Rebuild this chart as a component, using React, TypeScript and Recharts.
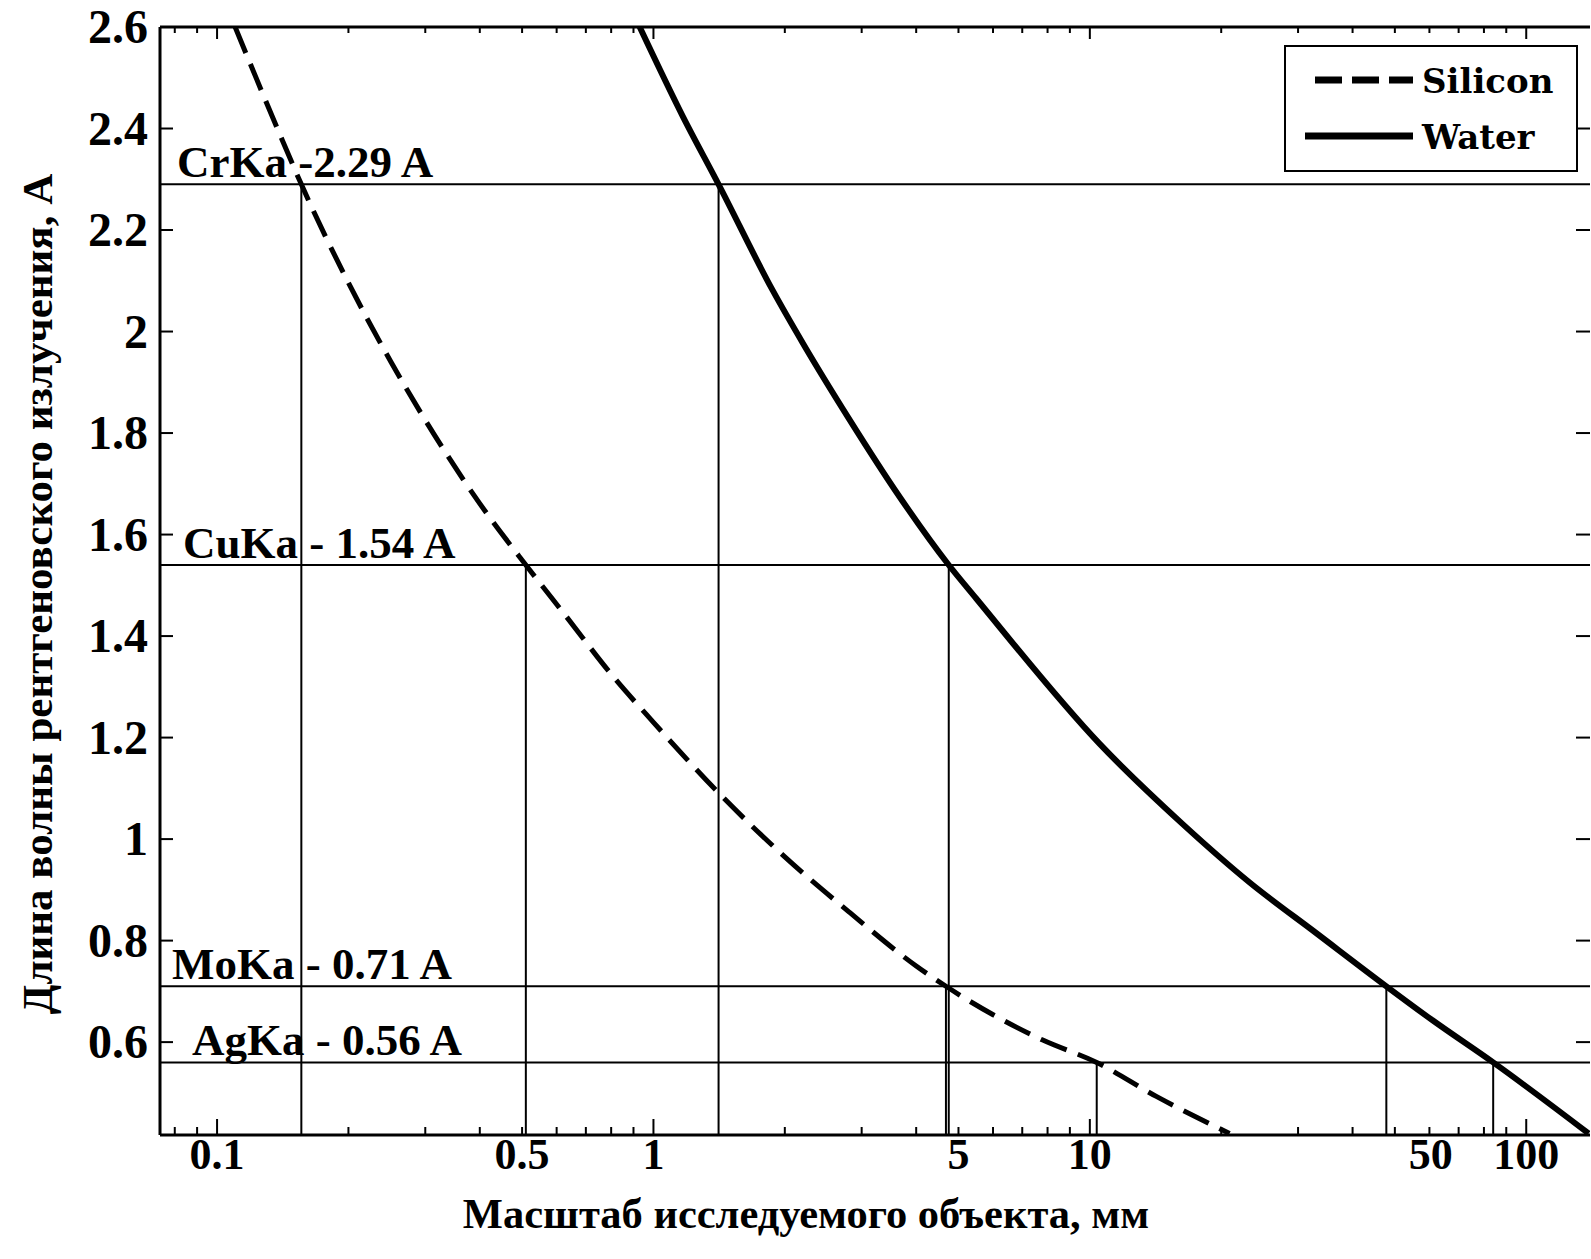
import React from 'react';
import { LineChart, Line, XAxis, YAxis, ReferenceLine, Legend } from 'recharts';

// Silicon (dashed) curve: object size, mm vs wavelength, A
const siliconSize = [0.110, 0.139, 0.156, 0.2, 0.25, 0.315, 0.4, 0.51, 0.632, 0.8, 1.0, 1.414, 2.0, 2.82, 4.0, 4.68, 7.8, 10.37, 14.2, 20.9];
const siliconWavelength = [2.60, 2.39, 2.29, 2.096, 1.941, 1.796, 1.661, 1.54, 1.438, 1.325, 1.23, 1.09, 0.965, 0.855, 0.75, 0.71, 0.604, 0.56, 0.493, 0.42];

// Water (solid) curve
const waterSize = [0.93, 1.169, 1.41, 1.879, 2.2, 2.816, 3.66, 4.75, 5.49, 10.52, 16.3, 23.2, 33.0, 47.8, 61.0, 84, 139];
const waterWavelength = [2.60, 2.423, 2.29, 2.08, 1.977, 1.826, 1.675, 1.54, 1.474, 1.188, 1.03, 0.915, 0.815, 0.71, 0.643, 0.56, 0.42];

// characteristic lines
const lineNames = ['CrKa -2.29 A', 'CuKa - 1.54 A', 'MoKa - 0.71 A', 'AgKa - 0.56 A'];
const lineWavelengths = [2.29, 1.54, 0.71, 0.56];
const siliconCrossing = [0.156, 0.51, 4.68, 10.37];
const waterCrossing = [1.41, 4.75, 47.8, 84];

// axes
const xDomain = [0.074, 140];
const yDomain = [0.417, 2.6];
const xTicks = [0.08, 0.09, 0.1, 0.2, 0.3, 0.4, 0.5, 0.6, 0.7, 0.8, 0.9, 1, 2, 3, 4, 5, 6, 7, 8, 9, 10, 20, 30, 40, 50, 60, 70, 80, 90, 100];
const xMajorTicks = [0.1, 1, 10, 100];
const xLabelValues = [0.1, 0.5, 1, 5, 10, 50, 100];
const xLabelTexts = ['0.1', '0.5', '1', '5', '10', '50', '100'];
const yTicks = [0.6, 0.8, 1, 1.2, 1.4, 1.6, 1.8, 2, 2.2, 2.4, 2.6];
const yTickTexts = ['0.6', '0.8', '1', '1.2', '1.4', '1.6', '1.8', '2', '2.2', '2.4', '2.6'];

const xTitle = 'Масштаб исследуемого объекта, мм';
const yTitle = 'Длина волны рентгеновского излучения, А';

// ---- presentation ----
const FONT = "'Liberation Serif', 'Times New Roman', serif";
const labelDx = [17, 23, 12, 32];
const xLabelShift: Record<string, number> = { '50': 36 };
const seriesStyle: Record<string, { width: number; dash?: string }> = {
  Silicon: { width: 5, dash: '28 12' },
  Water: { width: 6 },
};

const siliconData = siliconSize.map((s, i) => ({ size: s, wavelength: siliconWavelength[i] }));
const waterData = waterSize.map((s, i) => ({ size: s, wavelength: waterWavelength[i] }));

function BottomTick(props: any) {
  const { x, y, payload } = props;
  const v = payload.value;
  const major = xMajorTicks.includes(v);
  const idx = xLabelValues.indexOf(v);
  const txt = idx >= 0 ? xLabelTexts[idx] : null;
  return (
    <g>
      <line x1={x} x2={x} y1={y} y2={y - (major ? 16 : 8)} stroke="#000" strokeWidth={2} />
      {txt && (
        <text x={x + (xLabelShift[txt] || 0)} y={y + 34} textAnchor="middle" fontFamily={FONT} fontWeight="bold" fontSize={44} fill="#000">
          {txt}
        </text>
      )}
    </g>
  );
}

function TopTick(props: any) {
  const { x, y, payload } = props;
  const major = xMajorTicks.includes(payload.value);
  return <line x1={x} x2={x} y1={y} y2={y + (major ? 12 : 6)} stroke="#000" strokeWidth={2} />;
}

function LeftTick(props: any) {
  const { x, y, payload } = props;
  const idx = yTicks.indexOf(payload.value);
  return (
    <g>
      <line x1={x} x2={x + 13} y1={y} y2={y} stroke="#000" strokeWidth={2} />
      <text x={x - 12} y={y + 16} textAnchor="end" fontFamily={FONT} fontWeight="bold" fontSize={48} fill="#000">
        {idx >= 0 ? yTickTexts[idx] : ''}
      </text>
    </g>
  );
}

function RightTick(props: any) {
  const { x, y } = props;
  return <line x1={x} x2={x - 14} y1={y} y2={y} stroke="#000" strokeWidth={2} />;
}

function LineTag(props: any) {
  const { viewBox, text, dx } = props;
  return (
    <text x={viewBox.x + dx} y={viewBox.y - 7} fontFamily={FONT} fontWeight="bold" fontSize={45} fill="#000">
      {text}
    </text>
  );
}

function XTitle() {
  return (
    <text x={806} y={1228} textAnchor="middle" fontFamily={FONT} fontWeight="bold" fontSize={42.5} fill="#000">
      {xTitle}
    </text>
  );
}

function YTitle() {
  return (
    <text transform="translate(52,594) rotate(-90)" textAnchor="middle" fontFamily={FONT} fontWeight="bold" fontSize={43} fill="#000">
      {yTitle}
    </text>
  );
}

function LegendBox(props: any) {
  const items = props.payload || [];
  return (
    <svg width={294} height={127} style={{ display: 'block' }}>
      <rect x={1} y={1} width={292} height={125} fill="#fff" stroke="#000" strokeWidth={2} />
      {items.map((e: any, i: number) => {
        const st = seriesStyle[e.value] || { width: 6 };
        const cy = i === 0 ? 35 : 91;
        return (
          <g key={i}>
            <line x1={st.dash ? 31 : 21} x2={129} y1={cy} y2={cy} stroke="#000" strokeWidth={7} strokeDasharray={st.dash ? '27 10' : undefined} />
            <text x={138} y={cy + 13} fontFamily="'DejaVu Serif', serif" fontWeight="bold" fontSize={34} fill="#000">
              {e.value}
            </text>
          </g>
        );
      })}
    </svg>
  );
}

export default function App() {
  const ymin = yDomain[0];
  return (
    <div style={{ position: 'absolute', left: 0, top: 0, background: '#fff' }}>
      <LineChart width={1591} height={1259} margin={{ top: 0, right: 0, bottom: 0, left: 0 }}>
        <XAxis
          dataKey="size"
          type="number"
          scale="log"
          domain={xDomain}
          allowDataOverflow
          ticks={xTicks}
          interval={0}
          height={124}
          tickSize={0}
          tickMargin={0}
          tick={<BottomTick />}
          axisLine={{ stroke: '#000', strokeWidth: 3 }}
          tickLine={false}
          label={<XTitle />}
        />
        <XAxis
          xAxisId="top"
          orientation="top"
          dataKey="size"
          type="number"
          scale="log"
          domain={xDomain}
          allowDataOverflow
          ticks={xTicks}
          interval={0}
          height={27}
          tickSize={0}
          tickMargin={0}
          tick={<TopTick />}
          axisLine={{ stroke: '#000', strokeWidth: 3 }}
          tickLine={false}
        />
        <YAxis
          type="number"
          domain={yDomain}
          allowDataOverflow
          ticks={yTicks}
          interval={0}
          width={160}
          tickSize={0}
          tickMargin={0}
          tick={<LeftTick />}
          axisLine={{ stroke: '#000', strokeWidth: 3 }}
          tickLine={false}
          label={<YTitle />}
        />
        <YAxis
          yAxisId="right"
          orientation="right"
          type="number"
          domain={yDomain}
          allowDataOverflow
          ticks={yTicks}
          interval={0}
          width={1}
          tickSize={0}
          tickMargin={0}
          tick={<RightTick />}
          axisLine={false}
          tickLine={false}
        />
        {lineWavelengths.map((w, i) => (
          <ReferenceLine
            key={'h' + i}
            y={w}
            stroke="#000"
            strokeWidth={2}
            label={<LineTag text={lineNames[i]} dx={labelDx[i]} />}
          />
        ))}
        {lineWavelengths.map((w, i) => (
          <ReferenceLine
            key={'vs' + i}
            segment={[{ x: siliconCrossing[i], y: ymin }, { x: siliconCrossing[i], y: w }]}
            stroke="#000"
            strokeWidth={2}
          />
        ))}
        {lineWavelengths.map((w, i) => (
          <ReferenceLine
            key={'vw' + i}
            segment={[{ x: waterCrossing[i], y: ymin }, { x: waterCrossing[i], y: w }]}
            stroke="#000"
            strokeWidth={2}
          />
        ))}
        <Line
          data={siliconData}
          dataKey="wavelength"
          name="Silicon"
          type="monotone"
          stroke="#000"
          strokeWidth={seriesStyle.Silicon.width}
          strokeDasharray={seriesStyle.Silicon.dash}
          dot={false}
          activeDot={false}
          isAnimationActive={false}
        />
        <Line
          data={waterData}
          dataKey="wavelength"
          name="Water"
          type="monotone"
          stroke="#000"
          strokeWidth={seriesStyle.Water.width}
          dot={false}
          activeDot={false}
          isAnimationActive={false}
        />
        <Legend
          layout="vertical"
          align="center"
          verticalAlign="middle"
          content={<LegendBox />}
          wrapperStyle={{ left: 1284, top: 45, width: 294, height: 127 }}
        />
      </LineChart>
    </div>
  );
}
